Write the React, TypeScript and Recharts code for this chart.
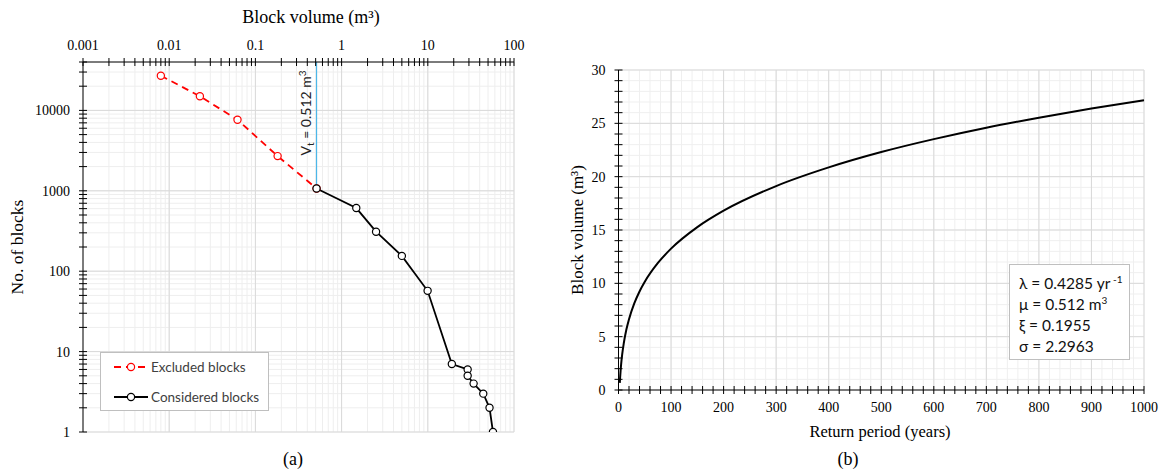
import React from 'react';
import {
  ComposedChart,
  LineChart,
  Line,
  XAxis,
  YAxis,
  CartesianGrid,
  ReferenceLine,
} from 'recharts';

// (a) block size distribution
const excludedVolume = [0.008, 0.0227, 0.062, 0.181, 0.512];
const excludedCount = [27000, 15000, 7650, 2700, 1070];
const consideredVolume = [0.512, 1.48, 2.51, 5.0, 9.95, 19, 29, 29, 34, 44, 52, 57];
const consideredCount = [1070, 610, 310, 155, 57, 7, 6, 5, 4, 3, 2, 1];
const thresholdVolume = 0.512;

const volumeDecades = [0.001, 0.01, 0.1, 1, 10, 100];
const volumeLabels = ['0.001', '0.01', '0.1', '1', '10', '100'];
const countDecades = [1, 10, 100, 1000, 10000];
const countLabels = ['1', '10', '100', '1000', '10000'];

// (b) return period vs block volume
const returnPeriod = [2.5, 3, 4, 5, 7, 10, 15, 20, 30, 40, 50, 75, 100, 150, 200, 300, 400, 500, 600, 700, 800, 900, 1000];
const blockVolume = [0.67, 1.1, 1.82, 2.4, 3.33, 4.38, 5.67, 6.64, 8.12, 9.24, 10.15, 11.91, 13.25, 15.27, 16.81, 19.12, 20.87, 22.31, 23.52, 24.59, 25.53, 26.39, 27.17];
const periodLabels = [0, 100, 200, 300, 400, 500, 600, 700, 800, 900, 1000];
const volumeLabelsB = [0, 5, 10, 15, 20, 25, 30];
const params = ['λ = 0.4285 yr', 'μ = 0.512 m', 'ξ = 0.1955', 'σ = 2.2963'];

const serif = '"Liberation Serif", "Times New Roman", serif';
const sans = 'Lato, Calibri, "Noto Sans", sans-serif';

const logMinor = (from: number, to: number) => {
  const out: number[] = [];
  for (let d = from; d < to; d++) {
    for (let m = 1; m < 10; m++) out.push(+(m * Math.pow(10, d)).toPrecision(2));
  }
  return out;
};
const volumeTicks = [...logMinor(-3, 2), 100];
const countTicks = [...logMinor(0, 4), 10000, 20000, 30000, 40000];
const periodTicks = Array.from({ length: 51 }, (_, i) => i * 20);
const volumeTicksB = Array.from({ length: 31 }, (_, i) => i);

const excludedData = excludedVolume.map((v, i) => ({ v, n: excludedCount[i] }));
const consideredData = consideredVolume.map((v, i) => ({ v, n: consideredCount[i] }));
const curveData = returnPeriod.map((t, i) => ({ t, bv: blockVolume[i] }));

const TopTick = (props: any) => {
  const { x, y, payload } = props;
  const i = volumeDecades.indexOf(payload.value);
  return (
    <g>
      <line x1={x} x2={x} y1={y + 8} y2={y + 16} stroke="#000" />
      {i >= 0 && (
        <text x={x} y={y} textAnchor="middle" fontFamily={serif} fontSize={14} fill="#000">
          {volumeLabels[i]}
        </text>
      )}
    </g>
  );
};

const CountTick = (props: any) => {
  const { x, y, payload } = props;
  const i = countDecades.indexOf(payload.value);
  return (
    <g>
      <line x1={x + 9} x2={x + 17} y1={y} y2={y} stroke="#000" />
      {i >= 0 && (
        <text x={x} y={y} dy="0.35em" textAnchor="end" fontFamily={serif} fontSize={14} fill="#000">
          {countLabels[i]}
        </text>
      )}
    </g>
  );
};

const PeriodTick = (props: any) => {
  const { x, y, payload } = props;
  const show = periodLabels.includes(payload.value);
  return (
    <g>
      <line x1={x} x2={x} y1={y - 16} y2={y - 8} stroke="#000" />
      {show && (
        <text x={x} y={y} dy="0.72em" textAnchor="middle" fontFamily={serif} fontSize={14} fill="#000">
          {payload.value}
        </text>
      )}
    </g>
  );
};

const VolumeTick = (props: any) => {
  const { x, y, payload } = props;
  const show = volumeLabelsB.includes(payload.value);
  return (
    <g>
      <line x1={x + 9} x2={x + 17} y1={y} y2={y} stroke="#000" />
      {show && (
        <text x={x} y={y} dy="0.35em" textAnchor="end" fontFamily={serif} fontSize={14} fill="#000">
          {payload.value}
        </text>
      )}
    </g>
  );
};

const VtLabel = (props: any) => {
  const { x, y } = props.viewBox;
  return (
    <text
      transform={`translate(${x - 6}, ${y + 51}) rotate(-90)`}
      textAnchor="middle"
      fontFamily={sans}
      fontSize={14}
      fill="#222"
    >
      V<tspan dy={3} fontSize={10}>t</tspan>
      <tspan dy={-3}> = 0.512 m</tspan>
      <tspan dy={-5} fontSize={10}>3</tspan>
    </text>
  );
};

const dot = (stroke: string) => ({ r: 3.6, stroke, strokeWidth: 1.2, fill: '#fff', strokeDasharray: '0' });
const supStyle = { fontSize: 10, position: 'relative' as const, top: -6, lineHeight: 0 };

const App = () => {
  return (
    <div style={{ position: 'absolute', left: 0, top: 0, width: 1161, height: 470, background: '#fff', overflow: 'hidden' }}>
      <div style={{ position: 'absolute', left: 0, top: 0 }}>
        <ComposedChart width={560} height={470} margin={{ top: 0, right: 46, bottom: 38, left: 0 }}>
          <CartesianGrid stroke="#eeeeee" />
          <XAxis
            dataKey="v"
            type="number"
            scale="log"
            orientation="top"
            domain={[0.001, 100]}
            allowDataOverflow
            ticks={volumeTicks}
            interval={0}
            height={62}
            tickSize={4}
            tickMargin={8}
            tickLine={false}
            axisLine={{ stroke: '#000' }}
            tick={<TopTick />}
          />
          <YAxis
            dataKey="n"
            type="number"
            scale="log"
            domain={[1, 40000]}
            allowDataOverflow
            ticks={countTicks}
            interval={0}
            width={83}
            tickSize={4}
            tickMargin={9}
            tickLine={false}
            axisLine={{ stroke: '#000' }}
            tick={<CountTick />}
          />
          {volumeDecades.slice(1).map((v) => (
            <ReferenceLine key={'vx' + v} x={v} stroke="#d9d9d9" />
          ))}
          {countDecades.map((c) => (
            <ReferenceLine key={'cy' + c} y={c} stroke="#d9d9d9" />
          ))}
          <ReferenceLine
            segment={[
              { x: thresholdVolume, y: 40000 },
              { x: thresholdVolume, y: 1070 },
            ]}
            stroke="#4cb7e9"
            strokeWidth={1.2}
            label={VtLabel}
          />
          <Line
            data={excludedData}
            dataKey="n"
            stroke="#ff0000"
            strokeWidth={1.8}
            strokeDasharray="7 5"
            dot={dot('#ff0000')}
            isAnimationActive={false}
          />
          <Line
            data={consideredData}
            dataKey="n"
            stroke="#000"
            strokeWidth={1.8}
            dot={dot('#000')}
            isAnimationActive={false}
          />
        </ComposedChart>
      </div>

      <div style={{ position: 'absolute', left: 560, top: 0 }}>
        <LineChart width={601} height={470} data={curveData} margin={{ top: 70, right: 17, bottom: 0, left: 0 }}>
          <CartesianGrid stroke="#efefef" />
          <XAxis
            dataKey="t"
            type="number"
            domain={[0, 1000]}
            ticks={periodTicks}
            interval={0}
            height={80}
            tickSize={4}
            tickMargin={8}
            tickLine={false}
            axisLine={{ stroke: '#000' }}
            tick={<PeriodTick />}
          />
          <YAxis
            type="number"
            domain={[0, 30]}
            ticks={volumeTicksB}
            interval={0}
            width={58.5}
            tickSize={4}
            tickMargin={9}
            tickLine={false}
            axisLine={{ stroke: '#000' }}
            tick={<VolumeTick />}
          />
          {periodLabels.slice(1).map((p) => (
            <ReferenceLine key={'px' + p} x={p} stroke="#d9d9d9" />
          ))}
          {volumeLabelsB.slice(1).map((b) => (
            <ReferenceLine key={'by' + b} y={b} stroke="#d9d9d9" />
          ))}
          <Line dataKey="bv" type="monotone" stroke="#000" strokeWidth={2} dot={false} isAnimationActive={false} />
        </LineChart>
      </div>

      {/* legend of (a) */}
      <div
        style={{
          position: 'absolute',
          left: 100,
          top: 352,
          width: 167,
          height: 57,
          border: '1px solid #bfbfbf',
          background: '#fff',
        }}
      >
        <svg width={167} height={57}>
          <line x1={13} x2={47} y1={14} y2={14} stroke="#ff0000" strokeWidth={1.8} strokeDasharray="7 5" />
          <circle cx={30} cy={14} r={3.6} stroke="#ff0000" strokeWidth={1.2} fill="#fff" />
          <text x={50} y={14} dy="0.35em" fontFamily={sans} fontSize={13.5} fill="#404040">Excluded blocks</text>
          <line x1={13} x2={47} y1={44} y2={44} stroke="#000" strokeWidth={1.8} />
          <circle cx={30} cy={44} r={3.6} stroke="#000" strokeWidth={1.2} fill="#fff" />
          <text x={50} y={44} dy="0.35em" fontFamily={sans} fontSize={13.5} fill="#404040">Considered blocks</text>
        </svg>
      </div>

      {/* parameter box of (b) */}
      <div
        style={{
          position: 'absolute',
          left: 1009,
          top: 264,
          width: 121,
          height: 96,
          border: '1px solid #bfbfbf',
          background: '#fff',
          fontFamily: sans,
          fontSize: 15.5,
          color: '#111',
          lineHeight: '21px',
          padding: '8px 0 0 9px',
          boxSizing: 'border-box',
        }}
      >
        <div>
          {params[0]}
          <span style={supStyle}> -1</span>
        </div>
        <div>
          {params[1]}
          <span style={supStyle}>3</span>
        </div>
        <div>{params[2]}</div>
        <div>{params[3]}</div>
      </div>

      <svg
        width={1161}
        height={470}
        style={{ position: 'absolute', left: 0, top: 0, pointerEvents: 'none' }}
      >
        <text x={311} y={23} textAnchor="middle" fontFamily={serif} fontSize={18} fill="#000">
          Block volume (m³)
        </text>
        <text
          transform="translate(23, 247) rotate(-90)"
          textAnchor="middle"
          fontFamily={serif}
          fontSize={17.5}
          fill="#000"
        >
          No. of  blocks
        </text>
        <text x={293} y={465} textAnchor="middle" fontFamily={serif} fontSize={18} fill="#000">
          (a)
        </text>
        <text
          transform="translate(583, 230) rotate(-90)"
          textAnchor="middle"
          fontFamily={serif}
          fontSize={17}
          fill="#000"
        >
          Block volume  (m³)
        </text>
        <text x={880} y={437} textAnchor="middle" fontFamily={serif} fontSize={16.5} fill="#000">
          Return period (years)
        </text>
        <text x={848} y={465} textAnchor="middle" fontFamily={serif} fontSize={18} fill="#000">
          (b)
        </text>
      </svg>
    </div>
  );
};

export default App;
